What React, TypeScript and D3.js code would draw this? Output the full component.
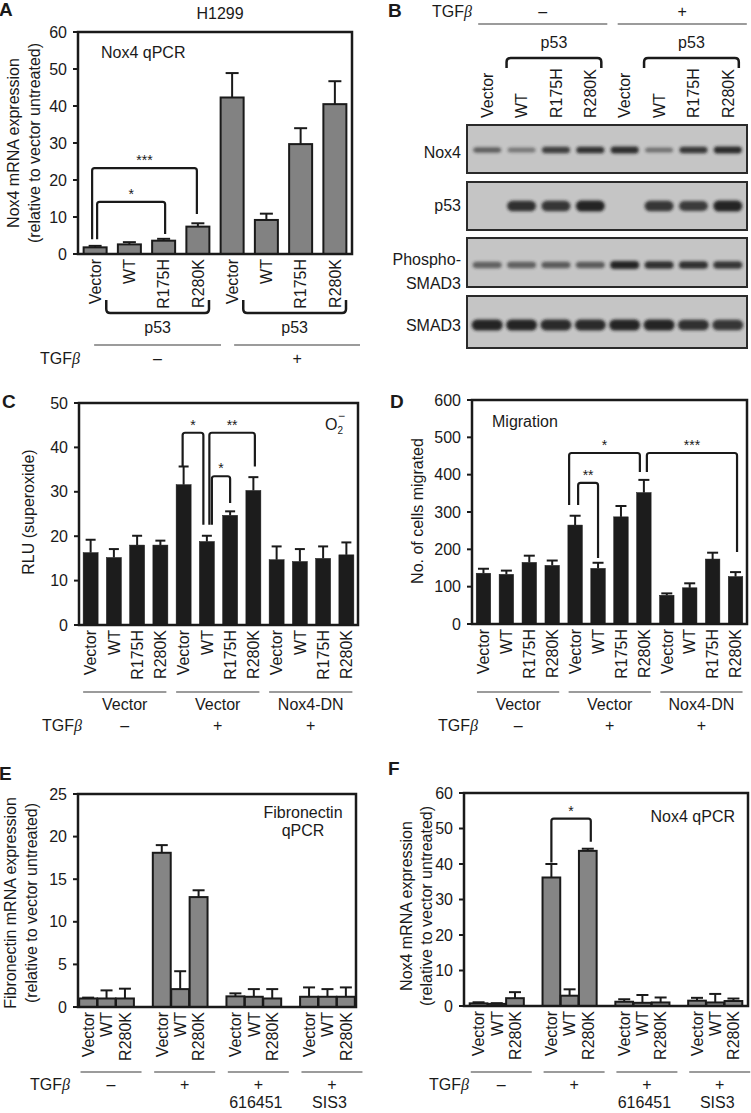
import React from "react";
import * as d3 from "d3";

const FONT = "'Liberation Sans', Arial, Helvetica, sans-serif";
const INK = "#1a1a1a";

// ---------------- Panel A : Nox4 qPCR (H1299) ----------------
const aLabels = ["Vector", "WT", "R175H", "R280K", "Vector", "WT", "R175H", "R280K"];
const aValues = [1.8, 2.6, 3.6, 7.4, 42.3, 9.2, 29.7, 40.5];
const aErrors = [0.4, 0.6, 0.5, 0.9, 6.6, 1.7, 4.3, 6.2];
const aTicks = [0, 10, 20, 30, 40, 50, 60];
const aTgf = ["–", "+"];
const aSig = [
  { label: "***", from: 0, to: 3, level: 23.2, endFrom: 4.0, endTo: 10.8, offFrom: -3, offTo: -1 },
  { label: "*", from: 0, to: 2, level: 14.1, endFrom: 4.0, endTo: 5.4, offFrom: 2, offTo: 1.5 },
];

// ---------------- Panel B : western blot ----------------
const bLanes = ["Vector", "WT", "R175H", "R280K", "Vector", "WT", "R175H", "R280K"];
const bRows = [["Nox4"], ["p53"], ["Phospho-", "SMAD3"], ["SMAD3"]];
const bNox4 = [0.5, 0.3, 0.78, 0.9, 0.92, 0.35, 0.85, 0.95];
const bP53 = [0, 0.9, 0.85, 1, 0, 0.85, 0.8, 1];
const bPSmad3 = [0.5, 0.5, 0.55, 0.55, 1, 0.9, 0.9, 0.85];
const bSmad3 = [1, 1, 0.95, 0.95, 1, 1, 0.9, 0.85];
const bTgf = ["–", "+"];

// ---------------- Panel C : superoxide ----------------
const cLabels = ["Vector", "WT", "R175H", "R280K", "Vector", "WT", "R175H", "R280K", "Vector", "WT", "R175H", "R280K"];
const cValues = [16.3, 15.2, 18.0, 18.0, 31.6, 18.8, 24.7, 30.3, 14.7, 14.3, 15.0, 15.8];
const cErrors = [2.9, 1.9, 2.1, 1.0, 4.1, 1.3, 0.9, 3.0, 3.0, 2.8, 2.7, 2.8];
const cTicks = [0, 10, 20, 30, 40, 50];
const cGroups = ["Vector", "Vector", "Nox4-DN"];
const cTgf = ["–", "+", "+"];
const cSig = [
  { label: "*", from: 4, to: 5, level: 43.3, endFrom: 35.7, endTo: 22.6, offFrom: -1, offTo: -3.5 },
  { label: "**", from: 5, to: 7, level: 43.3, endFrom: 22.6, endTo: 35.7, offFrom: 2.5, offTo: 1.5 },
  { label: "*", from: 5, to: 6, level: 33.5, endFrom: 22.6, endTo: 27.5, offFrom: 5, offTo: 0 },
];

// ---------------- Panel D : migration ----------------
const dLabels = cLabels;
const dValues = [136, 133, 165, 157, 265, 149, 287, 352, 77, 97, 174, 127];
const dErrors = [12, 10, 18, 13, 25, 15, 29, 34, 5, 12, 17, 12];
const dTicks = [0, 100, 200, 300, 400, 500, 600];
const dGroups = ["Vector", "Vector", "Nox4-DN"];
const dTgf = ["–", "+", "+"];
const dSig = [
  { label: "*", from: 4, to: 7, level: 458, endFrom: 319, endTo: 407, offFrom: -6, offTo: -4 },
  { label: "***", from: 7, to: 11, level: 458, endFrom: 407, endTo: 193, offFrom: 3, offTo: 1.5 },
  { label: "**", from: 4, to: 5, level: 378, endFrom: 319, endTo: 177, offFrom: 3, offTo: 0 },
];

// ---------------- Panel E : fibronectin qPCR ----------------
const eLabels = ["Vector", "WT", "R280K", "Vector", "WT", "R280K", "Vector", "WT", "R280K", "Vector", "WT", "R280K"];
const eValues = [1.0, 1.0, 1.0, 18.1, 2.1, 12.9, 1.25, 1.2, 1.0, 1.2, 1.2, 1.2];
const eErrors = [0.1, 0.95, 1.15, 0.9, 2.1, 0.8, 0.35, 0.9, 1.1, 1.1, 0.9, 1.1];
const eTicks = [0, 5, 10, 15, 20, 25];
const eTgf = ["–", "+", "+", "+"];
const eDrug = ["", "", "616451", "SIS3"];

// ---------------- Panel F : Nox4 qPCR ----------------
const fLabels = eLabels;
const fValues = [0.75, 0.6, 2.2, 36.2, 2.9, 43.7, 1.2, 0.9, 1.0, 1.5, 1.0, 1.4];
const fErrors = [0.3, 0.2, 1.7, 3.8, 1.8, 0.6, 0.7, 2.2, 1.4, 0.8, 2.4, 0.7];
const fTicks = [0, 10, 20, 30, 40, 50, 60];
const fTgf = ["–", "+", "+", "+"];
const fDrug = ["", "", "616451", "SIS3"];
const fSig = [{ label: "*", from: 3, to: 5, level: 52.8, endFrom: 40.4, endTo: 46.3, offFrom: 0, offTo: 3 }];

type Sig = { label: string; from: number; to: number; level: number; endFrom: number; endTo: number; offFrom: number; offTo: number };

function bracketDown(xL: number, xR: number, yH: number, yL: number, yR: number, r = 3) {
  return `M${xL},${yL} V${yH + r} Q${xL},${yH} ${xL + r},${yH} H${xR - r} Q${xR},${yH} ${xR},${yH + r} V${yR}`;
}
function bracketUp(xL: number, xR: number, yH: number, yEnd: number, r = 4) {
  return `M${xL},${yEnd} V${yH - r} Q${xL},${yH} ${xL + r},${yH} H${xR - r} Q${xR},${yH} ${xR},${yH - r} V${yEnd}`;
}

function Tgf({ x, y }: { x: number; y: number }) {
  return (
    <text x={x} y={y} textAnchor="end" fontSize={16} fill={INK}>
      TGF<tspan fontFamily="'Liberation Serif', serif" fontStyle="italic">β</tspan>
    </text>
  );
}

type ChartProps = {
  x0: number; x1: number; yTop: number; yBase: number; max: number; ticks: number[];
  values: number[]; errors: number[]; labels: string[];
  cx: (i: number) => number; bw: number;
  fill: string; stroke: string; strokeW: number; capW: number; sig: Sig[];
};

function BarChart(p: ChartProps) {
  const y = d3.scaleLinear().domain([0, p.max]).range([p.yBase, p.yTop]);
  return (
    <g>
      {p.values.map((v, i) => (
        <rect key={"b" + i} x={p.cx(i) - p.bw / 2} y={y(v)} width={p.bw} height={p.yBase - y(v)}
          fill={p.fill} stroke={p.stroke} strokeWidth={p.strokeW} />
      ))}
      {p.values.map((v, i) => (
        <g key={"e" + i} stroke={INK} strokeWidth={2}>
          <line x1={p.cx(i)} x2={p.cx(i)} y1={y(v)} y2={y(v + p.errors[i])} />
          <line x1={p.cx(i) - p.capW / 2} x2={p.cx(i) + p.capW / 2} y1={y(v + p.errors[i])} y2={y(v + p.errors[i])} />
        </g>
      ))}
      <rect x={p.x0} y={p.yTop} width={p.x1 - p.x0} height={p.yBase - p.yTop} fill="none" stroke={INK} strokeWidth={2.5} />
      {p.ticks.map((t) => (
        <g key={"t" + t}>
          <line x1={p.x0 - 5} x2={p.x0} y1={y(t)} y2={y(t)} stroke={INK} strokeWidth={2} />
          <text x={p.x0 - 11} y={y(t)} dy="0.35em" textAnchor="end" fontSize={16} fill={INK}>{t}</text>
        </g>
      ))}
      {p.labels.map((l, i) => (
        <text key={"l" + i} transform={`translate(${p.cx(i)},${p.yBase + 5}) rotate(-90)`} dy="0.36em"
          textAnchor="end" fontSize={16} fill={INK}>{l}</text>
      ))}
      {p.sig.map((s, k) => {
        const xL = p.cx(s.from) + s.offFrom;
        const xR = p.cx(s.to) + s.offTo;
        const yH = y(s.level);
        return (
          <g key={"s" + k}>
            <path d={bracketDown(xL, xR, yH, y(s.endFrom), y(s.endTo), 2.5)} fill="none" stroke={INK} strokeWidth={2.2} />
            <text x={(xL + xR) / 2} y={yH - 3} textAnchor="middle" fontSize={14} fill={INK}>{s.label}</text>
          </g>
        );
      })}
    </g>
  );
}

function bandCenters(n: number, r: [number, number], padOuter = 0) {
  const x = d3.scaleBand<number>().domain(d3.range(n)).range(r).paddingOuter(padOuter);
  return { cx: (i: number) => (x(i) as number) + x.bandwidth() / 2, start: (i: number) => x(i) as number, step: x.step() };
}

export default function App() {
  // Panel A scales
  const xA = bandCenters(8, [78, 352]);
  // Panel C/D
  const xC = bandCenters(12, [79, 358]);
  const xD = bandCenters(12, [472, 747]);
  // Panel E/F (4 groups of 3 with a blank slot between groups)
  const slot = (i: number) => i + Math.floor(i / 3);
  const xEs = bandCenters(15, [78, 356], 0.05);
  const xFs = bandCenters(15, [464, 748], 0.3);
  const cxE = (i: number) => xEs.cx(slot(i));
  const cxF = (i: number) => xFs.cx(slot(i));

  // Blot lanes
  const lane = bandCenters(8, [470, 745]);
  const blots = [
    { y0: 125, y1: 173, cy: 150, w: 28, h: 7, data: bNox4, label: bRows[0], ly: [152] },
    { y0: 182, y1: 230, cy: 206, w: 29, h: 11, data: bP53, label: bRows[1], ly: [205] },
    { y0: 238, y1: 287, cy: 265, w: 29, h: 8, data: bPSmad3, label: bRows[2], ly: [259, 283] },
    { y0: 296, y1: 348, cy: 325, w: 31, h: 11, data: bSmad3, label: bRows[3], ly: [325] },
  ];

  const groupLine = "#7a7a7a";

  return (
    <svg width={751} height={1113} style={{ position: "absolute", left: 0, top: 0, background: "#fff" }}
      fontFamily={FONT}>
      <defs>
        <filter id="blur" x="-30%" y="-100%" width="160%" height="300%">
          <feGaussianBlur stdDeviation="1.6" />
        </filter>
      </defs>
      <rect x={0} y={0} width={751} height={1113} fill="#fff" />

      {/* ================= Panel A ================= */}
      <text x={-1} y={16} fontSize={19} fontWeight="bold" fill={INK}>A</text>
      <text x={220} y={19} textAnchor="middle" fontSize={16} fill={INK}>H1299</text>
      <BarChart x0={78} x1={352} yTop={32} yBase={254} max={60} ticks={aTicks}
        values={aValues} errors={aErrors} labels={aLabels} cx={xA.cx} bw={23}
        fill="#828282" stroke={INK} strokeW={2} capW={13} sig={aSig} />
      <text x={101} y={58} fontSize={16} fill={INK}>Nox4 qPCR</text>
      <text transform="translate(13.5,143) rotate(-90)" dy="0.35em" textAnchor="middle" fontSize={16} fill={INK}>Nox4 mRNA expression</text>
      <text transform="translate(34,143) rotate(-90)" dy="0.35em" textAnchor="middle" fontSize={16} fill={INK}>(relative to vector untreated)</text>
      {[0, 1].map((g) => {
        const xL = xA.start(4 * g + 1) - 6;
        const xR = xA.start(4 * g + 3) + xA.step - 6;
        return (
          <g key={"ap" + g}>
            <path d={bracketUp(xL, xR, 313, 300)} fill="none" stroke={INK} strokeWidth={2.5} />
            <text x={(xL + xR) / 2} y={333} textAnchor="middle" fontSize={16} fill={INK}>p53</text>
          </g>
        );
      })}
      {aTgf.map((t, g) => {
        const xL = xA.cx(4 * g) - 1 + g * 3;
        const xR = xA.start(4 * g + 3) + xA.step + 6 + g * 2;
        return (
          <g key={"at" + g}>
            <line x1={xL} x2={xR} y1={345} y2={345} stroke={groupLine} strokeWidth={1.5} />
            <text x={(xL + xR) / 2} y={364} textAnchor="middle" fontSize={16} fill={INK}>{t}</text>
          </g>
        );
      })}
      <Tgf x={80} y={364} />

      {/* ================= Panel B ================= */}
      <text x={388} y={17} fontSize={19} fontWeight="bold" fill={INK}>B</text>
      <Tgf x={472} y={17} />
      {bTgf.map((t, g) => {
        const xL = lane.cx(4 * g) - 9 + g * 2;
        const xR = lane.cx(4 * g + 3) + 17 + g * 2;
        return (
          <g key={"bt" + g}>
            <text x={(xL + xR) / 2} y={17} textAnchor="middle" fontSize={16} fill={INK}>{t}</text>
            <line x1={xL} x2={xR} y1={24} y2={24} stroke={groupLine} strokeWidth={1.5} />
          </g>
        );
      })}
      {[0, 1].map((g) => {
        const xL = lane.cx(4 * g + 1) - 15;
        const xR = lane.cx(4 * g + 3) + 11;
        return (
          <g key={"bp" + g}>
            <text x={(xL + xR) / 2} y={48} textAnchor="middle" fontSize={16} fill={INK}>p53</text>
            <path d={bracketDown(xL, xR, 58, 68, 68, 4)} fill="none" stroke={INK} strokeWidth={2.5} />
          </g>
        );
      })}
      {bLanes.map((l, i) => (
        <text key={"bl" + i} transform={`translate(${lane.cx(i)},118) rotate(-90)`} dy="0.36em"
          textAnchor="start" fontSize={16} fill={INK}>{l}</text>
      ))}
      {blots.map((b, k) => (
        <g key={"blot" + k}>
          <rect x={467} y={b.y0} width={280} height={b.y1 - b.y0} fill="#c5c5c5" stroke="#2a2a2a" strokeWidth={2} />
          {b.data.map((v, i) =>
            v > 0 ? (
              <rect key={i} x={lane.cx(i) - b.w / 2} width={b.w}
                y={b.cy - (b.h * (0.6 + 0.4 * v)) / 2} height={b.h * (0.6 + 0.4 * v)}
                rx={b.h / 2} fill="#1e1e1e" opacity={0.25 + 0.7 * v} filter="url(#blur)" />
            ) : null
          )}
          {b.label.map((t, j) => (
            <text key={j} x={461} y={b.ly[j]} dy="0.35em" textAnchor="end" fontSize={16} fill={INK}>{t}</text>
          ))}
        </g>
      ))}

      {/* ================= Panel C ================= */}
      <text x={2} y={408} fontSize={19} fontWeight="bold" fill={INK}>C</text>
      <BarChart x0={79} x1={358} yTop={403} yBase={625} max={50} ticks={cTicks}
        values={cValues} errors={cErrors} labels={cLabels} cx={xC.cx} bw={15}
        fill="#1c1c1c" stroke="#1c1c1c" strokeW={0.5} capW={10} sig={cSig} />
      <text x={325} y={430} fontSize={16} fill={INK}>O<tspan fontSize={10} dy={4}>2</tspan><tspan fontSize={12} dx={-5} dy={-14}>−</tspan></text>
      <text transform="translate(28,512) rotate(-90)" dy="0.35em" textAnchor="middle" fontSize={16} fill={INK}>RLU (superoxide)</text>
      {cGroups.map((gname, g) => {
        const xL = xC.cx(4 * g) - 7.5;
        const xR = xC.cx(4 * g + 3) + 6;
        return (
          <g key={"cg" + g}>
            <line x1={xL} x2={xR} y1={692} y2={692} stroke={groupLine} strokeWidth={1.5} />
            <text x={(xL + xR) / 2} y={710} textAnchor="middle" fontSize={16} fill={INK}>{gname}</text>
            <text x={(xL + xR) / 2} y={731} textAnchor="middle" fontSize={16} fill={INK}>{cTgf[g]}</text>
          </g>
        );
      })}
      <Tgf x={82} y={731} />

      {/* ================= Panel D ================= */}
      <text x={390} y={408} fontSize={19} fontWeight="bold" fill={INK}>D</text>
      <BarChart x0={472} x1={747} yTop={400} yBase={624} max={600} ticks={dTicks}
        values={dValues} errors={dErrors} labels={dLabels} cx={xD.cx} bw={14.5}
        fill="#1c1c1c" stroke="#1c1c1c" strokeW={0.5} capW={11} sig={dSig} />
      <text x={492} y={427} fontSize={16} fill={INK}>Migration</text>
      <text transform="translate(417,511) rotate(-90)" dy="0.35em" textAnchor="middle" fontSize={16} fill={INK}>No. of cells migrated</text>
      {dGroups.map((gname, g) => {
        const xL = xD.cx(4 * g) - 6.5;
        const xR = xD.cx(4 * g + 3) + 7;
        return (
          <g key={"dg" + g}>
            <line x1={xL} x2={xR} y1={692} y2={692} stroke={groupLine} strokeWidth={1.5} />
            <text x={(xL + xR) / 2} y={710} textAnchor="middle" fontSize={16} fill={INK}>{gname}</text>
            <text x={(xL + xR) / 2} y={731} textAnchor="middle" fontSize={16} fill={INK}>{dTgf[g]}</text>
          </g>
        );
      })}
      <Tgf x={478} y={731} />

      {/* ================= Panel E ================= */}
      <text x={-1} y={780} fontSize={19} fontWeight="bold" fill={INK}>E</text>
      <BarChart x0={78} x1={356} yTop={794} yBase={1007} max={25} ticks={eTicks}
        values={eValues} errors={eErrors} labels={eLabels} cx={cxE} bw={xEs.step - 0.5}
        fill="#858585" stroke={INK} strokeW={2} capW={12} sig={[]} />
      <text x={303} y={818} textAnchor="middle" fontSize={16} fill={INK}>Fibronectin</text>
      <text x={303} y={836} textAnchor="middle" fontSize={16} fill={INK}>qPCR</text>
      <text transform="translate(10,903) rotate(-90)" dy="0.35em" textAnchor="middle" fontSize={16} fill={INK}>Fibronectin mRNA expression</text>
      <text transform="translate(31,903) rotate(-90)" dy="0.35em" textAnchor="middle" fontSize={16} fill={INK}>(relative to vector untreated)</text>
      {eTgf.map((t, g) => {
        const gc = cxE(3 * g + 1);
        return (
          <g key={"et" + g}>
            <line x1={gc - 26} x2={gc + 35} y1={1072} y2={1072} stroke={groupLine} strokeWidth={1.5} />
            <text x={gc + 4.5} y={1090} textAnchor="middle" fontSize={16} fill={INK}>{t}</text>
            <text x={gc + 2} y={1108} textAnchor="middle" fontSize={16} fill={INK}>{eDrug[g]}</text>
          </g>
        );
      })}
      <Tgf x={70} y={1090} />

      {/* ================= Panel F ================= */}
      <text x={388} y={775} fontSize={19} fontWeight="bold" fill={INK}>F</text>
      <BarChart x0={464} x1={748} yTop={793} yBase={1006} max={60} ticks={fTicks}
        values={fValues} errors={fErrors} labels={fLabels} cx={cxF} bw={xFs.step - 0.5}
        fill="#858585" stroke={INK} strokeW={2} capW={12} sig={fSig} />
      <text x={735} y={822} textAnchor="end" fontSize={16} fill={INK}>Nox4 qPCR</text>
      <text transform="translate(406,906) rotate(-90)" dy="0.35em" textAnchor="middle" fontSize={16} fill={INK}>Nox4 mRNA expression</text>
      <text transform="translate(426,906) rotate(-90)" dy="0.35em" textAnchor="middle" fontSize={16} fill={INK}>(relative to vector untreated)</text>
      {fTgf.map((t, g) => {
        const gc = cxF(3 * g + 1);
        return (
          <g key={"ft" + g}>
            <line x1={gc - 26} x2={gc + 35} y1={1072} y2={1072} stroke={groupLine} strokeWidth={1.5} />
            <text x={gc + 4.5} y={1090} textAnchor="middle" fontSize={16} fill={INK}>{t}</text>
            <text x={gc + 2} y={1108} textAnchor="middle" fontSize={16} fill={INK}>{fDrug[g]}</text>
          </g>
        );
      })}
      <Tgf x={469} y={1090} />
    </svg>
  );
}
